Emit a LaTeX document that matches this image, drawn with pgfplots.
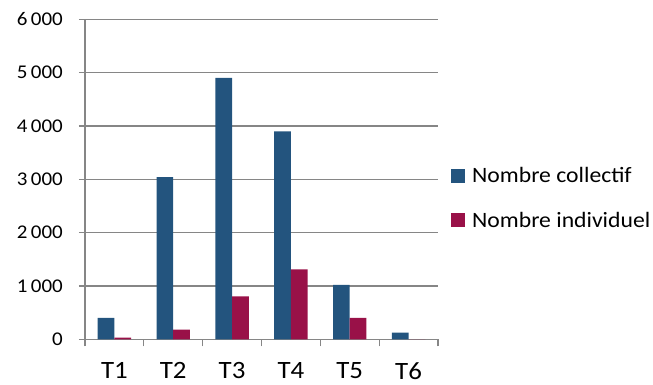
\documentclass[border=0pt]{standalone}
\usepackage{fontspec}
\setmainfont{Carlito}[FakeStretch=1.08]
\usepackage{pgfplots}
\pgfplotsset{compat=1.18}
\definecolor{cblue}{RGB}{35,84,126}
\definecolor{cmag}{RGB}{153,17,72}
\definecolor{gridgray}{RGB}{134,134,134}
\begin{document}
\begin{tikzpicture}[font=\fontsize{22}{26}\selectfont]
\begin{axis}[
  at={(0,0)}, anchor=south west,
  scale only axis, width=353bp, height=320bp,
  xmin=-0.5, xmax=5.5, ymin=0, ymax=6000,
  axis lines=left, axis line style={gridgray, line width=1.2bp, -},
  ymajorgrids, grid style={gridgray, line width=1.2bp},
  ytick={0,1000,2000,3000,4000,5000,6000},
  yticklabels={0,1\kern3.5bp000,2\kern3.5bp000,3\kern3.5bp000,4\kern3.5bp000,5\kern3.5bp000,6\kern3.5bp000},
  xtick={0,1,2,3,4,5},
  xticklabels={T1,T2,T3,T4,T5,T6},
  minor xtick={-0.5,0.5,1.5,2.5,3.5,4.5,5.5},
  tick align=outside,
  major tick length=6bp, minor tick length=7bp,
  tick style={gridgray, line width=1.2bp},
  major x tick style={draw=none},
  xticklabel style={font=\fontsize{25}{29}\selectfont, inner sep=0pt, anchor=north, yshift=-17bp},
  yticklabel style={font=\fontsize{19.5}{24}\selectfont, inner sep=0pt, anchor=east, xshift=-16bp},
  ybar=0pt, bar width=16.7bp,
  legend style={draw=none, fill=none, at={(1.0283,0.4416)}, anchor=west,
    row sep=24bp, font=\fontsize{22}{26}\selectfont},
  legend cell align=left,
  legend image code/.code={\fill[#1] (0bp,-7bp) rectangle (14bp,7bp); \path (19bp,0bp);},
]
\addplot[fill=cblue, draw=none] coordinates {(0,400) (1,3040) (2,4900) (3,3900) (4,1020) (5,125)};
\addplot[fill=cmag, draw=none] coordinates {(0,30) (1,180) (2,805) (3,1310) (4,400) (5,0)};
\legend{Nombre collectif, Nombre individuel}
\end{axis}
\pgfresetboundingbox
\path (-85bp,-45.7bp) rectangle (568bp,339.3bp);
\end{tikzpicture}
\end{document}
